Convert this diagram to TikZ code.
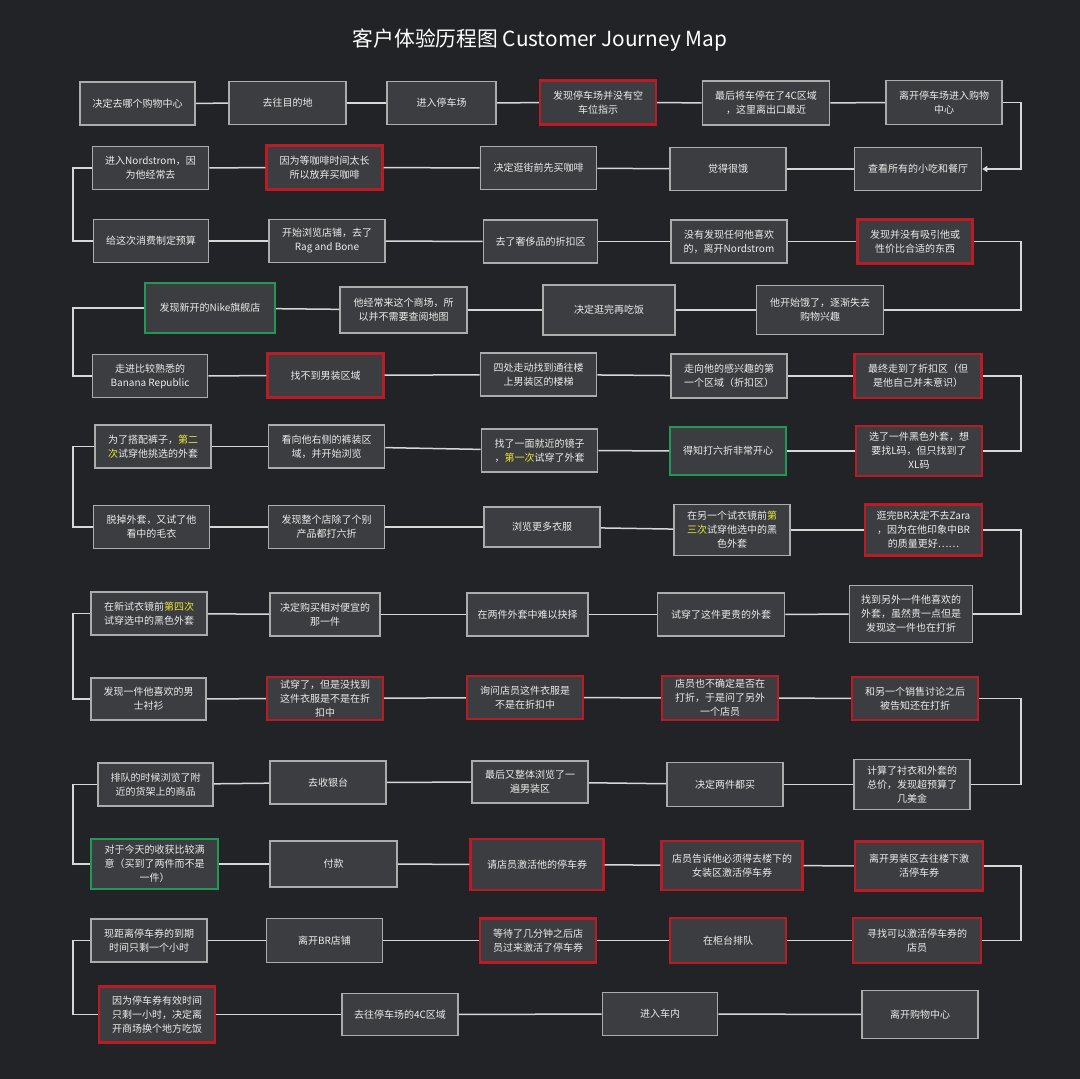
\documentclass[tikz,border=0pt]{standalone}
\usepackage{fontspec}
\setmainfont{Noto Sans CJK SC}
\usepackage{tikz}
\usetikzlibrary{arrows.meta}

\definecolor{bgdark}{RGB}{34,35,38}
\definecolor{boxfill}{RGB}{60,61,64}
\definecolor{boxline}{RGB}{172,172,172}
\definecolor{painred}{RGB}{185,28,36}
\definecolor{joygreen}{RGB}{36,150,85}
\definecolor{linkgray}{RGB}{215,215,215}
\definecolor{hilite}{RGB}{232,232,60}
\newcommand{\yel}[1]{\textcolor{hilite}{#1}}

\begin{document}
\begin{tikzpicture}[x=1pt,y=-1pt,
  stepbox/.style={draw=boxline,fill=boxfill,line width=1.6pt,text=white!92!black,
    align=center,inner sep=0pt,font=\fontsize{10}{14}\selectfont},
  pain/.style={stepbox,draw=painred,line width=2.4pt},
  joy/.style={stepbox,draw=joygreen,line width=2pt},
  sz/.style 2 args={minimum width=#1pt,minimum height=#2pt},
  link/.style={draw=linkgray,line width=1.5pt}]
  \fill[bgdark] (0,0) rectangle (1080,1079);
  \useasboundingbox (0,0) rectangle (1080,1079);

  \node[text=white,font=\fontsize{20.8}{25}\selectfont] (title) at (540,40) {客户体验历程图 Customer Journey Map};

  % row 1
  \node[stepbox,sz={115}{43}] (s1) at (137.5,103.5) {决定去哪个购物中心};
  \node[stepbox,sz={117}{43}] (s2) at (287.5,103) {去往目的地};
  \node[stepbox,sz={109}{43}] (s3) at (441.5,103) {进入停车场};
  \node[pain,sz={116}{44}] (s4) at (598,102.5) {发现停车场并没有空\\车位指示};
  \node[stepbox,sz={127}{44}] (s5) at (766,103) {最后将车停在了4C区域\\，这里离出口最近};
  \node[stepbox,sz={116}{44}] (s6) at (944,102.5) {离开停车场进入购物\\中心};
  % row 2
  \node[stepbox,sz={127}{43}] (s7) at (918,169) {查看所有的小吃和餐厅};
  \node[stepbox,sz={116}{43}] (s8) at (728,169) {觉得很饿};
  \node[stepbox,sz={116}{43}] (s9) at (538.5,168) {决定逛街前先买咖啡};
  \node[pain,sz={116}{44}] (s10) at (324.5,167.5) {因为等咖啡时间太长\\所以放弃买咖啡};
  \node[stepbox,sz={116}{43}] (s11) at (150.5,168) {进入Nordstrom，因\\为他经常去};
  % row 3
  \node[stepbox,sz={115}{43}] (s12) at (151,241) {给这次消费制定预算};
  \node[stepbox,sz={116}{43}] (s13) at (327,241) {开始浏览店铺，去了\\Rag and Bone};
  \node[stepbox,sz={114}{43}] (s14) at (540.5,241.5) {去了奢侈品的折扣区};
  \node[stepbox,sz={116}{43}] (s15) at (729,241.5) {没有发现任何他喜欢\\的，离开Nordstrom};
  \node[pain,sz={115}{44}] (s16) at (915,241.5) {发现并没有吸引他或\\性价比合适的东西};
  % row 4
  \node[stepbox,sz={127}{49}] (s17) at (820,310) {他开始饿了，逐渐失去\\购物兴趣};
  \node[stepbox,sz={132}{50}] (s18) at (609,310) {决定逛完再吃饭};
  \node[stepbox,sz={127}{46}] (s19) at (403.5,310) {他经常来这个商场，所\\以并不需要查阅地图};
  \node[joy,sz={130}{50}] (s20) at (210,308) {发现新开的Nike旗舰店};
  % row 5
  \node[stepbox,sz={115}{43}] (s21) at (150,376) {走进比较熟悉的\\Banana Republic};
  \node[pain,sz={116}{44}] (s22) at (325.5,375.5) {找不到男装区域};
  \node[stepbox,sz={116}{43}] (s23) at (538.5,374.5) {四处走动找到通往楼\\上男装区的楼梯};
  \node[stepbox,sz={116}{44}] (s24) at (729,376) {走向他的感兴趣的第\\一个区域（折扣区）};
  \node[pain,sz={127}{44}] (s25) at (918,376) {最终走到了折扣区（但\\是他自己并未意识）};
  % row 6
  \node[pain,sz={126}{50}] (s26) at (919,451) {选了一件黑色外套，想\\要找L码，但只找到了\\XL码};
  \node[joy,sz={116}{48}] (s27) at (728,451) {得知打六折非常开心};
  \node[stepbox,sz={116}{43}] (s28) at (539.5,450.5) {找了一面就近的镜子\\，\yel{第一次}试穿了外套};
  \node[stepbox,sz={116}{43}] (s29) at (326.5,446.5) {看向他右侧的裤装区\\域，并开始浏览};
  \node[stepbox,sz={116}{43}] (s30) at (153,446.5) {为了搭配裤子，\yel{第二}\\\yel{次}试穿他挑选的外套};
  % row 7
  \node[stepbox,sz={116}{43}] (s31) at (151.5,527) {脱掉外套，又试了他\\看中的毛衣};
  \node[stepbox,sz={116}{43}] (s32) at (326.5,527) {发现整个店除了个别\\产品都打六折};
  \node[stepbox,sz={116}{40}] (s33) at (542,527) {浏览更多衣服};
  \node[stepbox,sz={116}{51}] (s34) at (732,530) {在另一个试衣镜前\yel{第}\\\yel{三次}试穿他选中的黑\\色外套};
  \node[pain,sz={117}{51}] (s35) at (923.5,530) {逛完BR决定不去Zara\\，因为在他印象中BR\\的质量更好……};
  % row 8
  \node[stepbox,sz={123}{57}] (s36) at (911,614) {找到另外一件他喜欢的\\外套，虽然贵一点但是\\发现这一件也在打折};
  \node[stepbox,sz={127}{43}] (s37) at (721,614.5) {试穿了这件更贵的外套};
  \node[stepbox,sz={121}{43}] (s38) at (527.5,614.5) {在两件外套中难以抉择};
  \node[stepbox,sz={110}{43}] (s39) at (325,614.5) {决定购买相对便宜的\\那一件};
  \node[stepbox,sz={116}{43}] (s40) at (149,613.5) {在新试衣镜前\yel{第四次}\\试穿选中的黑色外套};
  % row 9
  \node[stepbox,sz={115}{42}] (s41) at (148.5,699) {发现一件他喜欢的男\\士衬衫};
  \node[pain,sz={116}{43}] (s42) at (325,698.5) {试穿了，但是没找到\\这件衣服是不是在折\\扣中};
  \node[pain,sz={116}{43}] (s43) at (525,697.5) {询问店员这件衣服是\\不是在折扣中};
  \node[pain,sz={116}{44}] (s44) at (720,698) {店员也不确定是否在\\打折，于是问了另外\\一个店员};
  \node[pain,sz={126}{43}] (s45) at (915,698.5) {和另一个销售讨论之后\\被告知还在打折};
  % row 10
  \node[stepbox,sz={116}{50}] (s46) at (912,784.5) {计算了衬衣和外套的\\总价，发现超预算了\\几美金};
  \node[stepbox,sz={116}{44}] (s47) at (725,784.5) {决定两件都买};
  \node[stepbox,sz={116}{42}] (s48) at (530,782) {最后又整体浏览了一\\遍男装区};
  \node[stepbox,sz={116}{43}] (s49) at (328,782.5) {去收银台};
  \node[stepbox,sz={115}{43}] (s50) at (155.5,784.5) {排队的时候浏览了附\\近的货架上的商品};
  % row 11
  \node[joy,sz={127}{50}] (s51) at (154.5,864) {对于今天的收获比较满\\意（买到了两件而不是\\一件）};
  \node[stepbox,sz={127}{46}] (s52) at (333.5,864) {付款};
  \node[pain,sz={133}{51}] (s53) at (537,864.5) {请店员激活他的停车券};
  \node[pain,sz={141}{49}] (s54) at (732,865.5) {店员告诉他必须得去楼下的\\女装区激活停车券};
  \node[pain,sz={128}{49}] (s55) at (919,866) {离开男装区去往楼下激\\活停车券};
  % row 12
  \node[pain,sz={128}{45}] (s56) at (917,940.5) {寻找可以激活停车券的\\店员};
  \node[pain,sz={116}{45}] (s57) at (728,940.5) {在柜台排队};
  \node[pain,sz={116}{44}] (s58) at (538,940.5) {等待了几分钟之后店\\员过来激活了停车券};
  \node[stepbox,sz={116}{44}] (s59) at (324.5,940.5) {离开BR店铺};
  \node[stepbox,sz={116}{43}] (s60) at (149,940.5) {现距离停车券的到期\\时间只剩一个小时};
  % row 13
  \node[pain,sz={116}{56}] (s61) at (157,1014.5) {因为停车券有效时间\\只剩一小时，决定离\\开商场换个地方吃饭};
  \node[stepbox,sz={116}{42}] (s62) at (400,1014.5) {去往停车场的4C区域};
  \node[stepbox,sz={115}{43}] (s63) at (660,1014) {进入车内};
  \node[stepbox,sz={116}{48}] (s64) at (920,1014.5) {离开购物中心};

  % connectors
  \coordinate (rx) at (1021,0);
  \coordinate (lx) at (73,0);
  \foreach \a/\b in {1/2,2/3,3/4,4/5,5/6, 7/8,8/9,9/10,10/11, 12/13,13/14,14/15,15/16,
      17/18,18/19,19/20, 21/22,22/23,23/24,24/25, 26/27,27/28,28/29,29/30,
      31/32,32/33,33/34,34/35, 36/37,37/38,38/39,39/40, 41/42,42/43,43/44,44/45,
      46/47,47/48,48/49,49/50, 51/52,52/53,53/54,54/55, 56/57,57/58,58/59,59/60,
      61/62,62/63,63/64}
    \draw[link] (s\a) -- (s\b);
  \draw[link,-{Triangle[width=6pt,length=5pt]}] (s6.east) -- (s6.east -| rx) |- (s7.east);
  \foreach \a/\b in {16/17,25/26,35/36,45/46,55/56}
    \draw[link] (s\a.east) -- (s\a.east -| rx) |- (s\b.east);
  \foreach \a/\b in {11/12,20/21,30/31,40/41,50/51,60/61}
    \draw[link] (s\a.west) -- (s\a.west -| lx) |- (s\b.west);
\end{tikzpicture}
\end{document}
